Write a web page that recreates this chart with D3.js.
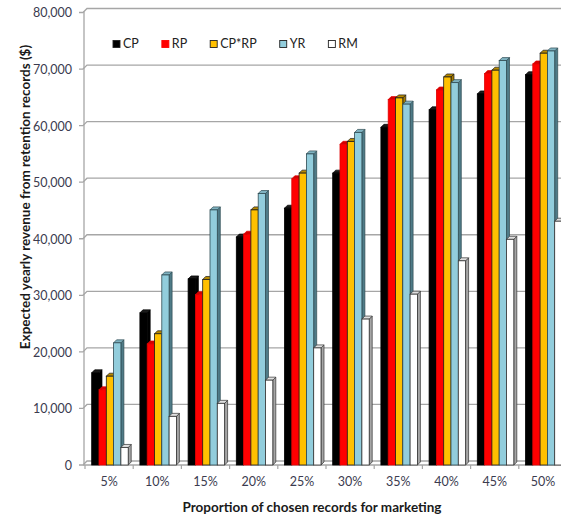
<!DOCTYPE html>
<html>
<head>
<meta charset="utf-8">
<script src="https://cdn.jsdelivr.net/npm/d3@7/dist/d3.min.js"></script>
<style>
  html, body { margin: 0; padding: 0; background: #fff; }
  svg { display: block; }
  text { font-family: Lato, "Liberation Sans", sans-serif; }
</style>
</head>
<body>
<svg id="chart" width="561" height="518"></svg>
<script>
// Proportion of records chosen for marketing
const categories = ["5%", "10%", "15%", "20%", "25%", "30%", "35%", "40%", "45%", "50%"];
const seriesNames = ["CP", "RP", "CP*RP", "YR", "RM"];

// Expected yearly revenue ($) per selection method
const cpValues   = [16300, 26900, 32900, 40300, 45400, 51600, 59700, 62800, 65600, 69000];
const rpValues   = [13300, 21400, 30100, 40800, 50600, 56700, 64600, 66300, 69200, 70900];
const cprpValues = [15700, 23200, 32800, 45100, 51600, 57200, 64900, 68600, 69800, 72800];
const yrValues   = [21600, 33600, 45100, 48000, 55000, 58800, 63800, 67600, 71500, 73200];
const rmValues   = [3100, 8600, 10900, 15000, 20700, 25800, 30200, 36100, 39900, 43100];

const yTicks = [0, 10000, 20000, 30000, 40000, 50000, 60000, 70000, 80000];

const seriesValues = [cpValues, rpValues, cprpValues, yrValues, rmValues];

// face colours: front, top, side, outline
const styles = [
  { front: "#000000", top: "#1a1a1a", side: "#000000", stroke: "#000000" },
  { front: "#ff0000", top: "#d40000", side: "#c00000", stroke: "#e00000" },
  { front: "#ffc000", top: "#b88a00", side: "#a67c00", stroke: "#1a1a1a" },
  { front: "#92cddc", top: "#7fb2c0", side: "#4f7b87", stroke: "#2e4a52" },
  { front: "#ffffff", top: "#e0e0e0", side: "#a6a6a6", stroke: "#333333" }
];

const svg = d3.select("#chart");
const W = 561;

const x = d3.scaleBand().domain(categories).range([85, 567]).padding(0);
const inner = d3.scaleBand().domain(seriesNames).range([6.7, 6.7 + 36.5]).padding(0);
const y = d3.scaleLinear().domain([0, 80000]).range([465, 12.5]);

const depthX = 3, depthY = 3;   // bar depth projection
const wallX = 4, wallY = 4;     // back wall offset

// back wall gridlines with the short perspective step from the axis
const grid = svg.append("g");
yTicks.forEach(v => {
  const yy = y(v);
  grid.append("path")
    .attr("d", `M79,${yy}L83,${yy}L${83 + wallX},${yy - wallY}L${W},${yy - wallY}`)
    .attr("fill", "none")
    .attr("stroke", "#a6a6a6")
    .attr("stroke-width", 1.3);
});

// vertical axis line
svg.append("line")
  .attr("x1", 84).attr("x2", 84)
  .attr("y1", y(80000) - 1).attr("y2", y(0))
  .attr("stroke", "#a6a6a6").attr("stroke-width", 1.3);

// y tick labels
const yAxis = d3.axisLeft(y).tickValues(yTicks).tickSize(0).tickPadding(0)
  .tickFormat(d3.format(","));
const yg = svg.append("g").attr("transform", "translate(72,0)").call(yAxis);
yg.select(".domain").remove();
yg.selectAll("text")
  .attr("fill", "#3b3b4f")
  .style("font-size", "12.5px")
  .attr("dy", "0.35em");

// floor line and category ticks
svg.append("line")
  .attr("x1", 83).attr("x2", W)
  .attr("y1", y(0)).attr("y2", y(0))
  .attr("stroke", "#a6a6a6").attr("stroke-width", 1.3);

const xAxis = d3.axisBottom(x).tickSize(0).tickPadding(0);
const xg = svg.append("g").attr("transform", `translate(0,${y(0)})`).call(xAxis);
xg.select(".domain").remove();
xg.selectAll("text")
  .attr("fill", "#3b3b4f")
  .style("font-size", "12.5px")
  .attr("y", 12.5);
categories.forEach(c => {
  svg.append("line")
    .attr("x1", x(c)).attr("x2", x(c))
    .attr("y1", y(0)).attr("y2", y(0) + 4)
    .attr("stroke", "#a6a6a6").attr("stroke-width", 1.2);
});

// 3-D columns, drawn left to right so each front face hides its neighbour's side
const bars = svg.append("g");
categories.forEach((cat, ci) => {
  seriesNames.forEach((s, si) => {
    const v = seriesValues[si][ci];
    const st = styles[si];
    const x0 = x(cat) + inner(s);
    const w = inner.bandwidth();
    const top = y(v);
    const bot = y(0);
    const g = bars.append("g");
    g.append("path")
      .attr("d", `M${x0 + w},${bot}L${x0 + w},${top}L${x0 + w + depthX},${top - depthY}L${x0 + w + depthX},${bot - depthY}Z`)
      .attr("fill", st.side).attr("stroke", st.stroke).attr("stroke-width", 0.7);
    g.append("path")
      .attr("d", `M${x0},${top}L${x0 + depthX},${top - depthY}L${x0 + w + depthX},${top - depthY}L${x0 + w},${top}Z`)
      .attr("fill", st.top).attr("stroke", st.stroke).attr("stroke-width", 0.7);
    g.append("rect")
      .attr("x", x0).attr("y", top)
      .attr("width", w).attr("height", bot - top)
      .attr("fill", st.front).attr("stroke", st.stroke).attr("stroke-width", 0.8);
  });
});

// legend
const legend = svg.append("g").attr("transform", "translate(113,44)");
let lx = 0;
seriesNames.forEach((s, si) => {
  const st = styles[si];
  legend.append("rect")
    .attr("x", lx).attr("y", -3.5).attr("width", 7).attr("height", 7)
    .attr("fill", st.front).attr("stroke", si === 1 ? st.front : "#222").attr("stroke-width", 0.9);
  const t = legend.append("text")
    .attr("x", lx + 10).attr("y", 0).attr("dy", "0.35em")
    .attr("fill", "#222")
    .style("font-size", "12.5px")
    .text(s);
  lx += 10 + t.node().getComputedTextLength() + 23;
});

// axis titles
svg.append("text")
  .attr("transform", "translate(30,197) rotate(-90)")
  .attr("text-anchor", "middle")
  .style("font-size", "13.5px").style("font-weight", "bold")
  .attr("fill", "#1a1a1a")
  .text("Expected yearly revenue from retention records ($)");

svg.append("text")
  .attr("x", 312).attr("y", 512)
  .attr("text-anchor", "middle")
  .style("font-size", "13.5px").style("font-weight", "bold")
  .attr("fill", "#1a1a1a")
  .text("Proportion of chosen records for marketing");
</script>
</body>
</html>
